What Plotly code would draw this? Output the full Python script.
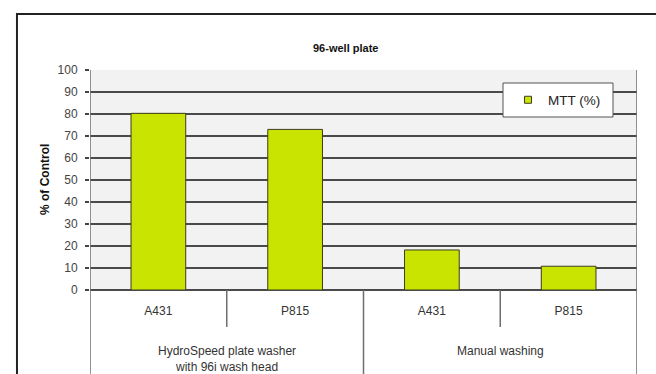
import plotly.graph_objects as go

cells = ["A431", "P815", "A431", "P815"]
groups = ["HydroSpeed plate washer<br>with 96i wash head", "Manual washing"]
group_of_cell = [0, 0, 1, 1]
mtt = [80.3, 73.0, 18.2, 10.8]
series_name = "MTT (%)"
title_text = "96-well plate"
y_title = "% of Control"
y_ticks = [0, 10, 20, 30, 40, 50, 60, 70, 80, 90, 100]

FONT = "Liberation Sans, Arial, sans-serif"
BAR = "#c8e400"
BAR_LINE = "#3d3d1f"
GRID = "#4a4a4a"
DIV = "#6e6e6e"

xs = list(range(len(cells)))

fig = go.Figure()
fig.add_trace(go.Bar(
    x=xs, y=mtt, width=0.4, name=series_name, showlegend=False,
    marker=dict(color=BAR, line=dict(color=BAR_LINE, width=1)),
))
# legend entry with small square marker
fig.add_trace(go.Scatter(
    x=[None], y=[None], mode="markers", name=series_name,
    marker=dict(symbol="square", size=7, color=BAR, line=dict(color=BAR_LINE, width=1)),
))

shapes = []
# outer chart frame (top + left visible)
shapes.append(dict(type="rect", xref="paper", yref="paper", x0=-0.1335, x1=1.2, y0=-0.6, y1=1.2545,
                   line=dict(color="#222", width=2), layer="above"))
# category dividers
n = len(cells)
for i in range(n + 1):
    xpos = i - 0.5
    if i == 0 or i == n:
        y0 = -0.5
        y1 = 1.0
    elif group_of_cell[i - 1] != group_of_cell[i]:
        y0 = -0.5
        y1 = 0.0
    else:
        y0 = -0.168
        y1 = 0.0
    shapes.append(dict(type="line", xref="x", yref="paper", x0=xpos, x1=xpos, y0=y0, y1=y1,
                       line=dict(color=DIV, width=1.5), layer="above"))
# legend box
shapes.append(dict(type="rect", xref="paper", yref="paper",
                   x0=(503 - 90) / 547, x1=(613 - 90) / 547,
                   y0=(290 - 117) / 220, y1=(290 - 83) / 220,
                   fillcolor="white", line=dict(color="#555", width=1), layer="above"))

annotations = []
for g, label in enumerate(groups):
    members = [x for x, gg in zip(xs, group_of_cell) if gg == g]
    center = sum(members) / len(members)
    annotations.append(dict(x=center, y=-0.235, xref="x", yref="paper", text=label,
                            showarrow=False, yanchor="top", xanchor="center",
                            font=dict(family=FONT, size=12, color="#333")))
annotations.append(dict(x=(345 - 90) / 547, y=(290 - 48) / 220, xref="paper", yref="paper",
                        text="<b>" + title_text + "</b>", showarrow=False,
                        xanchor="center", yanchor="middle",
                        font=dict(family=FONT, size=11, color="#111")))
annotations.append(dict(x=(45 - 90) / 547, y=0.5, xref="paper", yref="paper",
                        text="<b>" + y_title + "</b>", showarrow=False, textangle=-90,
                        xanchor="center", yanchor="middle",
                        font=dict(family=FONT, size=12, color="#111")))

fig.update_layout(
    width=656, height=374,
    margin=dict(l=90, r=19, t=70, b=84),
    paper_bgcolor="white", plot_bgcolor="#f2f2f2",
    font=dict(family=FONT, color="#333"),
    shapes=shapes, annotations=annotations,
    legend=dict(x=(508 - 90) / 547, y=(290 - 100) / 220, xanchor="left", yanchor="middle",
                bgcolor="rgba(0,0,0,0)", borderwidth=0,
                font=dict(family=FONT, size=13.5, color="#222")),
    bargap=0.6,
)
fig.update_xaxes(range=[-0.5, n - 0.5], tickmode="array", tickvals=xs, ticktext=cells,
                 ticks="outside", ticklen=10, tickcolor="rgba(0,0,0,0)",
                 tickfont=dict(family=FONT, size=12, color="#333"),
                 showgrid=False, zeroline=False, showline=False, fixedrange=True)
fig.update_yaxes(range=[0, 100], tickmode="array", tickvals=y_ticks,
                 ticks="outside", ticklen=4, tickcolor="#444", tickwidth=1.5,
                 ticklabelstandoff=5,
                 tickfont=dict(family=FONT, size=12, color="#444"),
                 showgrid=True, gridcolor=GRID, gridwidth=1.6,
                 zeroline=True, zerolinecolor=GRID, zerolinewidth=1.6,
                 showline=False, fixedrange=True)

fig.write_html("out.html", config={"displayModeBar": False},
               post_script="document.body.style.margin='0';document.body.style.overflow='hidden';")
